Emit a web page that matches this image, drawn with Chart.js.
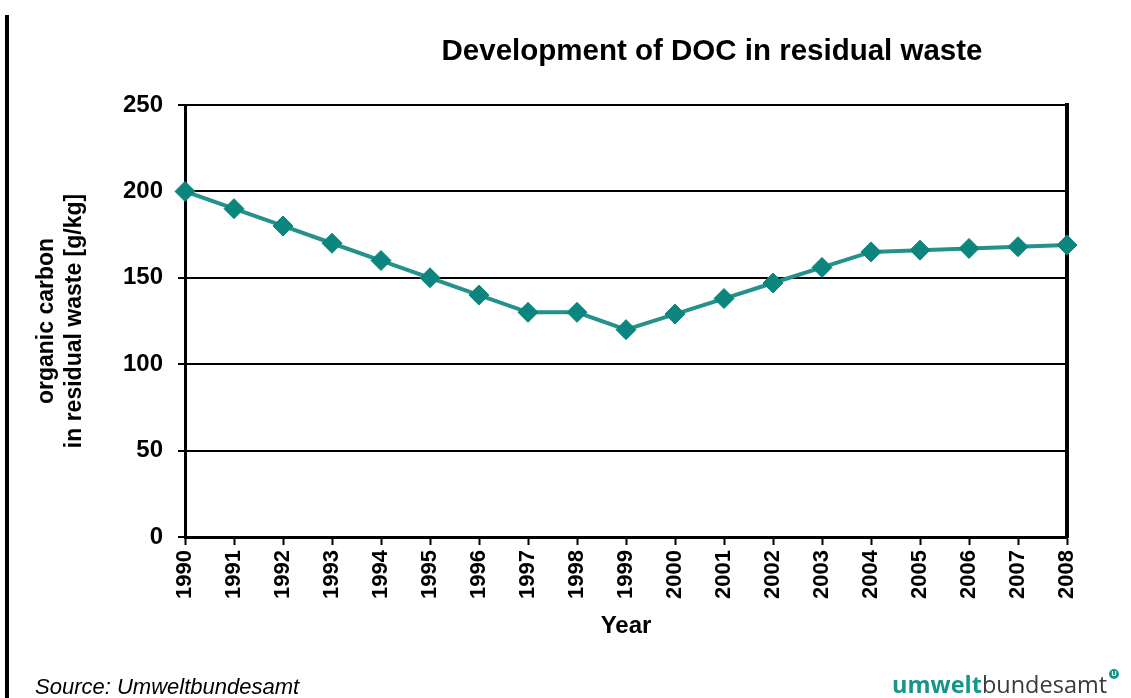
<!DOCTYPE html>
<html>
<head>
<meta charset="utf-8">
<script src="https://cdn.jsdelivr.net/npm/chart.js@4.4.1/dist/chart.umd.min.js"></script>
<style>
  html, body { margin: 0; padding: 0; background: #ffffff; }
  #wrap { position: relative; width: 1131px; height: 698px; overflow: hidden; background: #fff; }
  #c { position: absolute; left: 0; top: 0; }
  .txt { position: absolute; white-space: nowrap; font-family: "Liberation Sans", Arial, sans-serif; color: #000; }
  #title { left: 412px; width: 600px; top: 32px; line-height: 36px; text-align: center; font-weight: bold; font-size: 29.5px; }
  #source { left: 35px; top: 674px; line-height: 26px; font-size: 22px; font-style: italic; }
  #logo { left: 892px; top: 669px; line-height: 30px; font-family: "Open Sans", "Noto Sans", sans-serif; font-size: 23.5px; }
  #logo .u { color: #16958a; font-weight: bold; }
  #logo .b { color: #3a3a3a; font-weight: normal; }
  #logo .mark { position: absolute; left: 217px; top: 0px; width: 10px; height: 10px; border-radius: 50%; background: #16958a; color: #fff; font-family: "Liberation Sans", Arial, sans-serif; font-size: 7px; line-height: 10px; text-align: center; font-weight: bold; }
  #vline { position: absolute; left: 5px; top: 15px; width: 4px; height: 683px; background: #000; }
</style>
</head>
<body>
<div id="wrap">
  <div id="vline"></div>
  <canvas id="c" width="1131" height="698"></canvas>
  <div id="title" class="txt">Development of DOC in residual waste</div>
  <div id="source" class="txt">Source: Umweltbundesamt</div>
  <div id="logo" class="txt"><span class="u">umwelt</span><span class="b">bundesamt</span><span class="mark">U</span></div>
</div>
<script>
const years = ['1990','1991','1992','1993','1994','1995','1996','1997','1998','1999',
               '2000','2001','2002','2003','2004','2005','2006','2007','2008'];
const docValues = [200, 190, 180, 170, 160, 150, 140, 130, 130, 120,
                   129, 138, 147, 156, 165, 166, 167, 168, 169];
const yTicks = [0, 50, 100, 150, 200, 250];
const yTitleLines = ['organic carbon', 'in residual waste [g/kg]'];
const xTitle = 'Year';

const FONT = '"Liberation Sans", Arial, sans-serif';
const TEAL = '#0b857d';

new Chart(document.getElementById('c'), {
  type: 'line',
  data: {
    labels: years,
    datasets: [{
      label: 'DOC',
      data: docValues,
      borderColor: '#24918a',
      borderWidth: 4,
      backgroundColor: TEAL,
      pointStyle: 'rectRot',
      pointRadius: 10,
      pointBorderWidth: 1,
      pointBorderColor: TEAL,
      pointBackgroundColor: TEAL,
      tension: 0,
      fill: false
    }]
  },
  options: {
    responsive: false,
    animation: false,
    devicePixelRatio: 1,
    layout: { padding: { top: 105, left: 0, right: 64, bottom: 0 } },
    plugins: {
      legend: { display: false },
      tooltip: { enabled: false },
      title: { display: false }
    },
    scales: {
      x: {
        type: 'category',
        offset: false,
        afterFit: (s) => { s.height = 161; },
        grid: { drawOnChartArea: false, drawTicks: true, tickLength: 8, tickColor: '#000', tickWidth: 2 },
        border: { display: true, color: '#000', width: 3 },
        ticks: {
          autoSkip: false, minRotation: 90, maxRotation: 90, padding: 5,
          color: '#000', font: { family: FONT, size: 22, weight: 'bold' }
        },
        title: {
          display: true, text: xTitle, color: '#000',
          font: { family: FONT, size: 24, weight: 'bold', lineHeight: 1.2 },
          padding: { top: 0, bottom: 57 }
        }
      },
      y: {
        min: 0, max: 250,
        afterFit: (s) => { s.width = 185; },
        afterBuildTicks: (s) => { s.ticks = yTicks.map(v => ({ value: v })); },
        grid: { color: '#000', lineWidth: 2, drawTicks: true, tickLength: 7, tickColor: '#000', tickWidth: 2 },
        border: { display: true, color: '#000', width: 3 },
        ticks: {
          padding: 15, color: '#000',
          font: { family: FONT, size: 24, weight: 'bold' }
        },
        title: {
          display: true, text: yTitleLines, color: '#000',
          font: { family: FONT, size: 23, weight: 'bold', lineHeight: '28px' },
          padding: { top: 33, bottom: 0 }
        }
      },
      yR: {
        position: 'right',
        min: 0, max: 250,
        afterFit: (s) => { s.width = 0; },
        grid: { drawOnChartArea: false, drawTicks: false },
        border: { display: true, color: '#000', width: 4 },
        ticks: { display: false }
      }
    }
  }
});
</script>
</body>
</html>
